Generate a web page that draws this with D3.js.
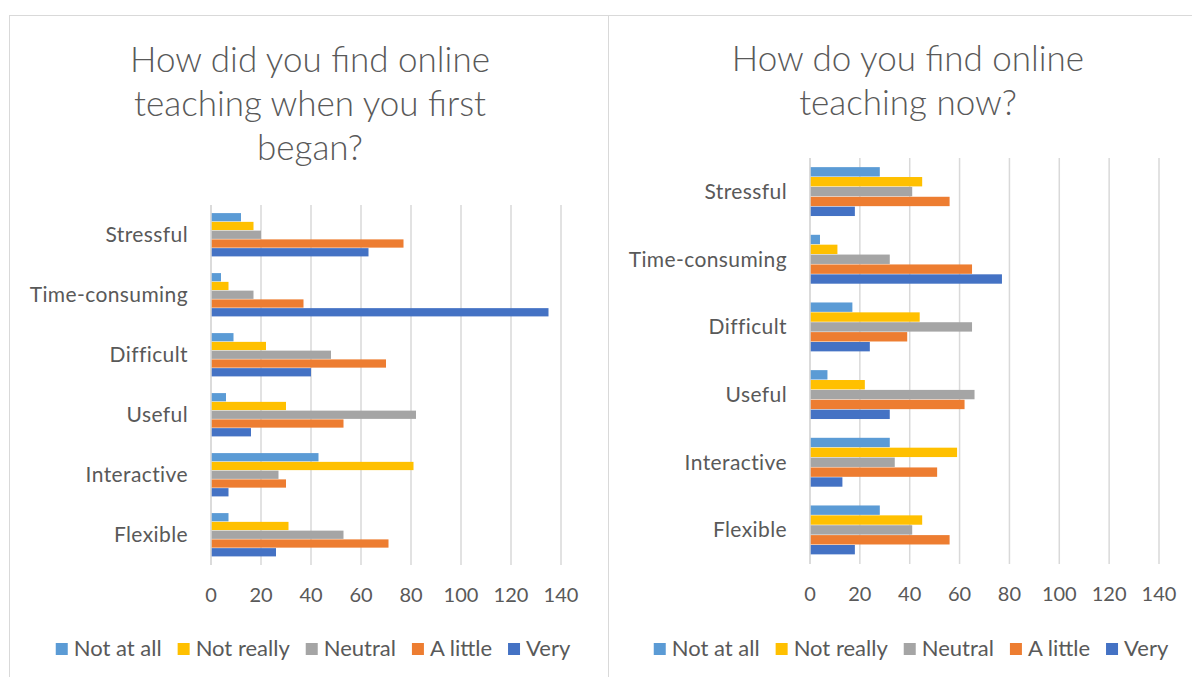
<!DOCTYPE html>
<html>
<head>
<meta charset="utf-8">
<script src="https://cdn.jsdelivr.net/npm/d3@7"></script>
<style>
  body { margin: 0; background: #fff; }
  svg { display: block; font-family: Lato, "Open Sans", sans-serif; }
</style>
</head>
<body>
<svg id="chart" width="1192" height="677"></svg>
<script>
// categories top to bottom, series in legend order
const categories = ["Stressful", "Time-consuming", "Difficult", "Useful", "Interactive", "Flexible"];
const seriesNames = ["Not at all", "Not really", "Neutral", "A little", "Very"];
const seriesColors = ["#5B9BD5", "#FFC000", "#A5A5A5", "#ED7D31", "#4472C4"];
const tickValues = [0, 20, 40, 60, 80, 100, 120, 140];

// "How did you find online teaching when you first began?"
const beganNotAtAll = [12, 4, 9, 6, 43, 7];
const beganNotReally = [17, 7, 22, 30, 81, 31];
const beganNeutral = [20, 17, 48, 82, 27, 53];
const beganALittle = [77, 37, 70, 53, 30, 71];
const beganVery = [63, 135, 40, 16, 7, 26];

// "How do you find online teaching now?"
const nowNotAtAll = [28, 4, 17, 7, 32, 28];
const nowNotReally = [45, 11, 44, 22, 59, 45];
const nowNeutral = [41, 32, 65, 66, 34, 41];
const nowALittle = [56, 65, 39, 62, 51, 56];
const nowVery = [18, 77, 24, 32, 13, 18];

const textColor = "#595959";
const gridColor = "#d9d9d9";

const svg = d3.select("#chart");

// panel borders
svg.append("rect").attr("x", 9.5).attr("y", 15.5).attr("width", 599).attr("height", 700)
  .attr("fill", "none").attr("stroke", gridColor);
svg.append("rect").attr("x", 608.5).attr("y", 15.5).attr("width", 600).attr("height", 700)
  .attr("fill", "none").attr("stroke", gridColor);

function drawChart(opts) {
  const g = svg.append("g");

  // title
  g.append("text")
    .attr("text-anchor", "middle")
    .attr("fill", textColor)
    .style("font-size", "35px")
    .style("font-weight", 300)
    .selectAll("tspan")
    .data(opts.title)
    .enter().append("tspan")
    .attr("x", opts.center)
    .attr("y", (d, i) => opts.titleY + i * 44)
    .text(d => d);

  const x = d3.scaleLinear().domain([0, 140]).range(opts.xRange);
  const y = d3.scaleBand().domain(categories).range(opts.yRange).paddingInner(opts.pad).paddingOuter(opts.pad / 2);
  const ySub = d3.scaleBand().domain(seriesNames).range([0, y.bandwidth()]);

  // gridlines
  g.append("g")
    .selectAll("line")
    .data(tickValues)
    .enter().append("line")
    .attr("x1", d => x(d)).attr("x2", d => x(d))
    .attr("y1", opts.yRange[0]).attr("y2", opts.yRange[1])
    .attr("stroke", gridColor)
    .attr("stroke-width", 1.5);

  // bars
  const rows = [];
  categories.forEach((c, i) => {
    seriesNames.forEach((s, j) => {
      rows.push({ cat: c, series: s, color: seriesColors[j], value: opts.series[j][i] });
    });
  });

  g.append("g")
    .selectAll("rect")
    .data(rows)
    .enter().append("rect")
    .attr("x", x(0))
    .attr("y", d => y(d.cat) + ySub(d.series))
    .attr("width", d => x(d.value) - x(0))
    .attr("height", ySub.bandwidth() - 0.5)
    .attr("fill", d => d.color);

  // category axis line
  g.append("line")
    .attr("x1", x(0)).attr("x2", x(0))
    .attr("y1", opts.yRange[0]).attr("y2", opts.yRange[1])
    .attr("stroke", gridColor).attr("stroke-width", 1.5);

  // category labels
  g.append("g")
    .selectAll("text")
    .data(categories)
    .enter().append("text")
    .attr("x", x(0) - 23)
    .attr("y", d => y(d) + y.step() / 2 - (opts.pad * y.step()) / 2 + 7)
    .attr("text-anchor", "end")
    .attr("fill", textColor)
    .style("font-size", "21px")
    .style("letter-spacing", "0.4px")
    .text(d => d);

  // value axis labels
  g.append("g")
    .selectAll("text")
    .data(tickValues)
    .enter().append("text")
    .attr("x", d => x(d))
    .attr("y", opts.tickY)
    .attr("text-anchor", "middle")
    .attr("fill", textColor)
    .style("font-size", "20px")
    .text(d => d);

  // legend, centred under the chart
  const legend = g.append("g");
  let offset = 0;
  seriesNames.forEach((s, j) => {
    const item = legend.append("g").attr("transform", "translate(" + offset + ",0)");
    item.append("rect").attr("x", 0).attr("y", -13).attr("width", 12).attr("height", 12).attr("fill", seriesColors[j]);
    const t = item.append("text").attr("x", 18).attr("y", 0).attr("fill", textColor)
      .style("font-size", "22px").text(s);
    offset += 18 + t.node().getComputedTextLength() + 16;
  });
  offset -= 16;
  legend.attr("transform", "translate(" + (opts.center + 3 - offset / 2) + "," + opts.legendY + ")");
}

drawChart({
  title: ["How did you find online", "teaching when you first", "began?"],
  center: 310,
  titleY: 72,
  xRange: [211, 561],
  yRange: [205, 565],
  pad: 0.27,
  tickY: 602,
  legendY: 656,
  series: [beganNotAtAll, beganNotReally, beganNeutral, beganALittle, beganVery]
});

drawChart({
  title: ["How do you find online", "teaching now?"],
  center: 908,
  titleY: 71,
  xRange: [810, 1159],
  yRange: [158, 564],
  pad: 0.27,
  tickY: 601,
  legendY: 656,
  series: [nowNotAtAll, nowNotReally, nowNeutral, nowALittle, nowVery]
});
</script>
</body>
</html>
